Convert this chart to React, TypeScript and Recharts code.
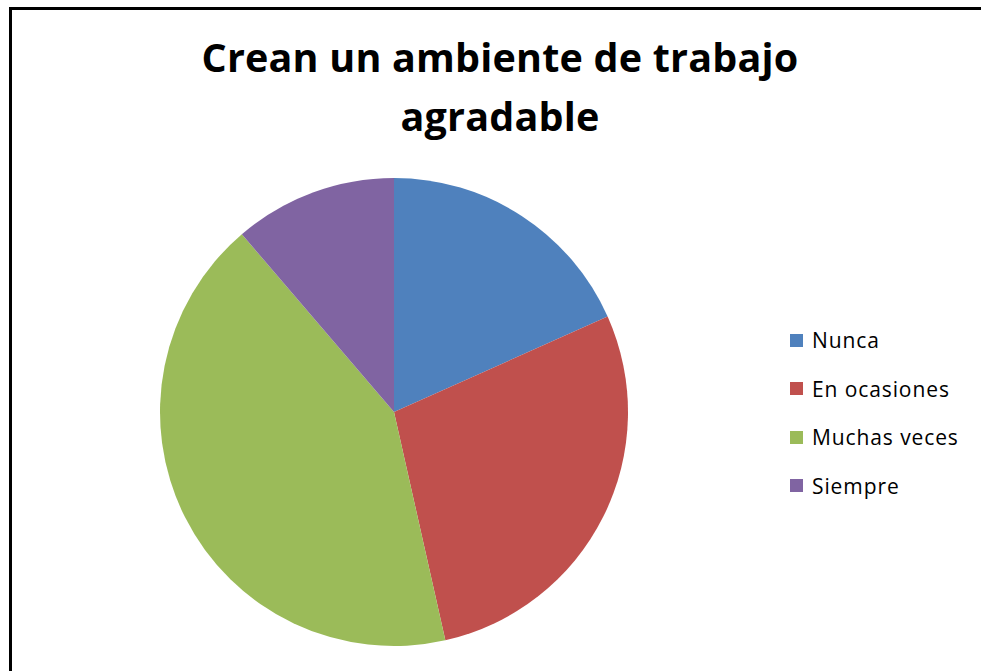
import React from 'react';
import { PieChart, Pie, Cell, Legend } from 'recharts';

const categories = ['Nunca', 'En ocasiones', 'Muchas veces', 'Siempre'];
const values = [13, 20, 30, 8];
const colors = ['#4F81BD', '#C0504D', '#9BBB59', '#8064A2'];

const data = categories.map((name, i) => ({ name, value: values[i] }));

const LegendList = () => (
  <div style={{ fontFamily: '"Open Sans", Lato, sans-serif', fontSize: 21, letterSpacing: 0.9 }}>
    {categories.map((c, i) => (
      <div key={c} style={{ display: 'flex', alignItems: 'center', height: 48.5 }}>
        <span style={{ width: 13, height: 13, background: colors[i], marginRight: 9, display: 'inline-block' }} />
        <span style={{ color: '#000' }}>{c}</span>
      </div>
    ))}
  </div>
);

const App: React.FC = () => {
  return (
    <div style={{ position: 'fixed', left: 0, top: 0, width: 981, height: 671, overflow: 'hidden', background: '#fff' }}>
      <div
        style={{
          position: 'absolute', left: 9, top: 7, width: 1000, height: 700,
          border: '3px solid #000', boxSizing: 'border-box',
        }}
      />
      <div
        style={{
          position: 'absolute', left: 0, top: 28, width: 1000, textAlign: 'center',
          fontFamily: '"Open Sans", Lato, sans-serif', fontWeight: 'bold', fontSize: 39.5, letterSpacing: 0.2,
          lineHeight: '59px', color: '#000',
        }}
      >
        Crean un ambiente de trabajo
        <br />
        agradable
      </div>
      <div style={{ position: 'absolute', left: 0, top: 0 }}>
        <PieChart width={981} height={671}>
          <Pie
            data={data}
            dataKey="value"
            nameKey="name"
            cx={389}
            cy={407}
            outerRadius={234}
            startAngle={90}
            endAngle={-270}
            stroke="none"
            isAnimationActive={false}
          >
            {data.map((d, i) => (
              <Cell key={d.name} fill={colors[i]} />
            ))}
          </Pie>
          <Legend
            layout="vertical"
            content={<LegendList />}
            wrapperStyle={{ position: 'absolute', left: 790, top: 316, width: 190 }}
          />
        </PieChart>
      </div>
    </div>
  );
};

export default App;
